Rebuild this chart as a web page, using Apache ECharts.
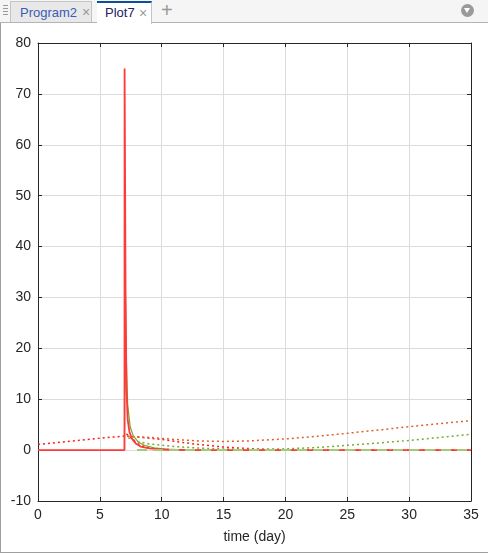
<!DOCTYPE html>
<html>
<head>
<meta charset="utf-8">
<script src="https://cdn.jsdelivr.net/npm/echarts@6/dist/echarts.min.js"></script>
<style>
  html, body { margin: 0; padding: 0; background: #fff; font-family: "Liberation Sans", Arial, sans-serif; }
  #tabs { position: absolute; left: 0; top: 0; width: 488px; height: 22px; background: #f5f5f5; border-bottom: 1px solid #b4b4b4; }
  .grip { position: absolute; left: 3px; top: 5px; width: 5px; height: 12px;
          background: repeating-linear-gradient(#999 0 1px, transparent 1px 3px); }
  .tab { position: absolute; top: 1px; height: 21px; font-size: 13px; line-height: 21px; box-sizing: border-box; }
  .tab1 { left: 10px; width: 82px; background: #e8e8e8; border: 1px solid #c4c4c4; border-bottom: none; color: #3c5cb4; padding-left: 9px; }
  .tab2 { left: 97px; width: 55px; background: #fff; border-top: 2px solid #0e4e9c; border-right: 1px solid #c4c4c4; color: #222266; padding-left: 8px; height: 23px; line-height: 20px; }
  .x { position: absolute; color: #999; font-size: 14px; }
  .plus { position: absolute; left: 161px; top: -1px; color: #999; font-size: 20px; line-height: 22px; }
  .menu { position: absolute; left: 461px; top: 4px; width: 13px; height: 13px; border-radius: 50%; background: #9a9a9a; }
  .menu:after { content: ""; position: absolute; left: 3px; top: 4px; border-left: 3.5px solid transparent; border-right: 3.5px solid transparent; border-top: 5px solid #fff; }
  #frame { position: absolute; left: 0; top: 23px; width: 487px; height: 529px; border-left: 1px solid #a0a0a0; border-bottom: 1px solid #a0a0a0; }
  #chart { position: absolute; left: 0; top: 0; width: 487px; height: 529px; }
</style>
</head>
<body>
<div id="tabs">
  <div class="grip"></div>
  <div class="tab tab1">Program2<span class="x" style="left:71px">×</span></div>
  <div class="tab tab2">Plot7<span class="x" style="left:42px">×</span></div>
  <div class="plus">+</div>
  <div class="menu"></div>
</div>
<div id="frame"><div id="chart"></div></div>
<script>
// 坐标轴
const xTicks = [0, 5, 10, 15, 20, 25, 30, 35];
const yTicks = [-10, 0, 10, 20, 30, 40, 50, 60, 70, 80];

// 红色实线（尖峰）
const redT = [0, 6.99, 7.0, 7.08, 7.15, 7.25, 7.4, 7.6, 7.9, 8.3, 9, 10, 12, 35];
const redV = [0, 0, 75, 30, 12, 6, 3.5, 2.2, 1.3, 0.7, 0.35, 0.12, 0, 0];
// 绿色实线
const greenT = [6.99, 7.06, 7.14, 7.25, 7.45, 7.7, 8.1, 8.6, 9.4, 10.5, 12, 14];
const greenV = [0, 33, 18, 9, 4.6, 2.8, 1.6, 0.95, 0.45, 0.15, 0.03, 0];
// 绿色虚线（零线）
const greenDashT = [8, 35];
const greenDashV = [0, 0];
// 红色点线（0~7 上升，之后衰减）
const redDotT = [0, 1, 2, 3, 4, 5, 6, 7, 8, 10, 12, 13, 15, 17, 19, 21, 35];
const redDotV = [1.1, 1.35, 1.6, 1.85, 2.1, 2.35, 2.55, 2.75, 2.6, 2.1, 1.4, 1.1, 0.6, 0.3, 0.1, 0, 0];
// 红色点线（尖峰后短段）
const redDot2T = [7.15, 7.4, 7.7, 8.1, 8.6, 9.3, 10.3, 12];
const redDot2V = [3.2, 2.7, 2.0, 1.2, 0.7, 0.35, 0.12, 0];
// 橙色点线
const orangeDotT = [7.2, 9, 11, 13, 15, 17, 20, 22.5, 25, 27.5, 30, 32.5, 35];
const orangeDotV = [2.7, 2.5, 2.1, 1.8, 1.7, 1.8, 2.2, 2.7, 3.3, 3.95, 4.6, 5.2, 5.8];
// 绿色点线
const greenDotT = [7.3, 8, 9, 11, 13, 15, 17.5, 20, 22.5, 25, 27.5, 30, 32.5, 35];
const greenDotV = [2.4, 1.7, 1.2, 0.7, 0.4, 0.22, 0.15, 0.25, 0.5, 0.95, 1.4, 1.9, 2.5, 3.1];

function zip(t, v) {
  return t.map(function (x, i) { return [x, v[i]]; });
}

const txt = "#262626";
const axisCommon = {
  type: "value",
  axisLine: { show: true, lineStyle: { color: txt, width: 1 } },
  axisTick: { show: true, inside: true, length: 4, lineStyle: { color: txt } },
  splitLine: { show: false },
  axisLabel: { show: false }
};

const chart = echarts.init(document.getElementById("chart"));
chart.setOption({
  animation: false,
  grid: { left: 37, right: 17, top: 20, bottom: 51, containLabel: false },
  xAxis: [
    {
      type: "value", min: xTicks[0], max: xTicks[xTicks.length - 1], interval: 5,
      name: "time (day)", nameLocation: "middle", nameGap: 29,
      nameTextStyle: { color: txt, fontSize: 14, fontFamily: "Liberation Sans" },
      axisLine: { show: true, onZero: false, lineStyle: { color: txt } },
      axisTick: { show: true, inside: true, length: 4, lineStyle: { color: txt } },
      axisLabel: { color: txt, fontSize: 14, fontFamily: "Liberation Sans", margin: 7 },
      splitLine: { show: true, lineStyle: { color: "#dcdcdc" } }
    },
    Object.assign({}, axisCommon, { position: "top", min: 0, max: 35, interval: 5,
      axisLine: { show: true, onZero: false, lineStyle: { color: txt } } })
  ],
  yAxis: [
    {
      type: "value", min: yTicks[0], max: yTicks[yTicks.length - 1], interval: 10,
      axisLine: { show: true, onZero: false, lineStyle: { color: txt } },
      axisTick: { show: true, inside: true, length: 4, lineStyle: { color: txt } },
      axisLabel: { color: txt, fontSize: 14, fontFamily: "Liberation Sans", margin: 7 },
      splitLine: { show: true, lineStyle: { color: "#dcdcdc" } }
    },
    Object.assign({}, axisCommon, { position: "right", min: -10, max: 80, interval: 10,
      axisLine: { show: true, onZero: false, lineStyle: { color: txt } } })
  ],
  series: [
    { type: "line", data: zip(redDotT, redDotV), symbol: "none", z: 3,
      lineStyle: { color: "#ff1a1a", width: 1.5, type: [2, 3] } },
    { type: "line", data: zip(orangeDotT, orangeDotV), symbol: "none", z: 3,
      lineStyle: { color: "#e0602a", width: 1.5, type: [2, 3] } },
    { type: "line", data: zip(greenDotT, greenDotV), symbol: "none", z: 3,
      lineStyle: { color: "#77ac30", width: 1.5, type: [2, 3] } },
    { type: "line", data: zip(redDot2T, redDot2V), symbol: "none", z: 3,
      lineStyle: { color: "#ff1a1a", width: 1.5, type: [2, 3] } },
    { type: "line", data: zip(greenT, greenV), symbol: "none", z: 4,
      lineStyle: { color: "#77ac30", width: 1.2 } },
    { type: "line", data: zip(redT, redV), symbol: "none", z: 5,
      lineStyle: { color: "#ff3a3a", width: 1.8 } },
    { type: "line", data: zip(greenDashT, greenDashV), symbol: "none", z: 6,
      lineStyle: { color: "#a8c97a", width: 2, type: [10, 6] } }
  ]
});
</script>
</body>
</html>
